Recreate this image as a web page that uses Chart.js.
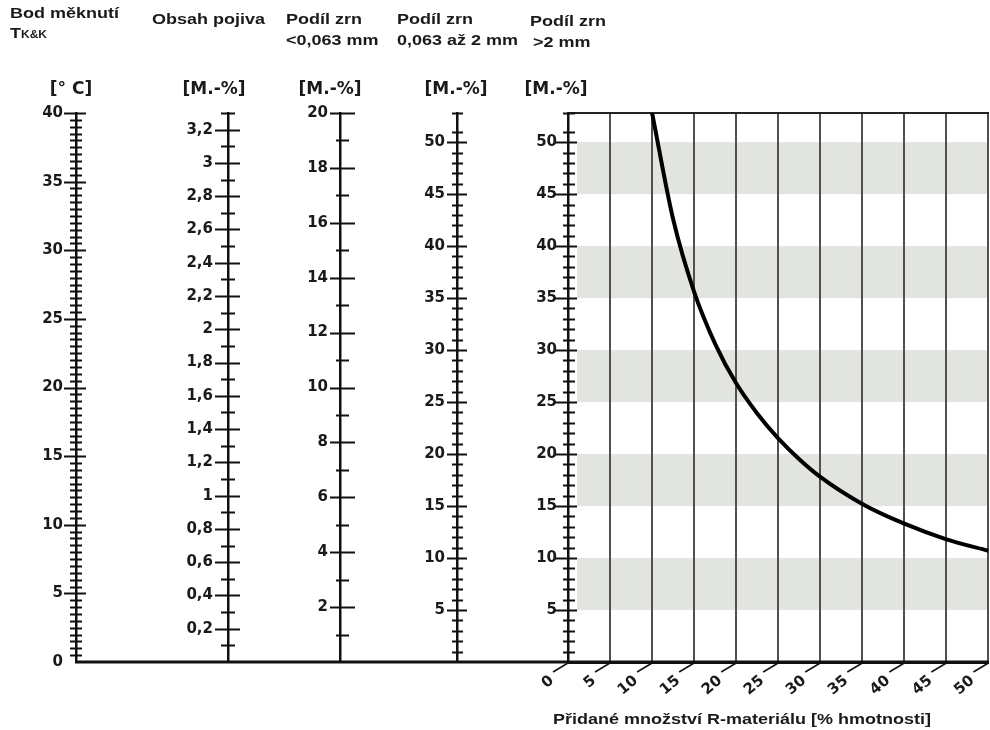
<!DOCTYPE html>
<html lang="cs">
<head>
<meta charset="utf-8">
<title>Nomogram R-materiálu</title>
<script src="https://cdn.jsdelivr.net/npm/chart.js@4.4.1/dist/chart.umd.min.js"></script>
<style>
  html, body { margin: 0; padding: 0; background: #fff; }
  #wrap { position: relative; width: 990px; height: 730px; overflow: hidden; }
  #nomo { position: absolute; left: 0; top: 0; }
  .t { position: absolute; white-space: nowrap; font: bold 15px "Liberation Sans", Arial, sans-serif; line-height: 15px; color: #1a1a1a; transform: scaleX(1.2); transform-origin: left top; }
  .sub { font-size: 10px; }
  .u { position: absolute; width: 100px; text-align: center; font: bold 17px "DejaVu Sans", sans-serif; line-height: 17px; color: #1a1a1a; }
</style>
</head>
<body>
<div id="wrap">
  <canvas id="nomo" width="1010" height="730"></canvas>

  <div class="t" style="left:10px;top:5px">Bod měknutí</div>
  <div class="t" style="left:10px;top:25px">T<span class="sub">K&amp;K</span></div>
  <div class="t" style="left:152px;top:11px">Obsah pojiva</div>
  <div class="t" style="left:286px;top:11px">Podíl zrn</div>
  <div class="t" style="left:286px;top:32px">&lt;0,063 mm</div>
  <div class="t" style="left:397px;top:11px">Podíl zrn</div>
  <div class="t" style="left:397px;top:32px">0,063 až 2 mm</div>
  <div class="t" style="left:530px;top:13px">Podíl zrn</div>
  <div class="t" style="left:533px;top:34px">&gt;2 mm</div>

  <div class="u" style="left:21px;top:80px">[° C]</div>
  <div class="u" style="left:164px;top:80px">[M.-%]</div>
  <div class="u" style="left:280px;top:80px">[M.-%]</div>
  <div class="u" style="left:406px;top:80px">[M.-%]</div>
  <div class="u" style="left:506px;top:80px">[M.-%]</div>

  <div class="t" style="left:553px;top:711px">Přidané množství R-materiálu [% hmotnosti]</div>
</div>

<script>
// labelled values on each scale
const tempLabels = [0, 5, 10, 15, 20, 25, 30, 35, 40];
const binderLabels = [0.2, 0.4, 0.6, 0.8, 1, 1.2, 1.4, 1.6, 1.8, 2, 2.2, 2.4, 2.6, 2.8, 3, 3.2];
const finesLabels = [2, 4, 6, 8, 10, 12, 14, 16, 18, 20];
const sandLabels = [5, 10, 15, 20, 25, 30, 35, 40, 45, 50];
const gravelLabels = [5, 10, 15, 20, 25, 30, 35, 40, 45, 50];
const addedLabels = [0, 5, 10, 15, 20, 25, 30, 35, 40, 45, 50];

// curve: added R-material [%] vs. >2 mm share [M.-%]
const curveX = [10, 12.5, 15, 17.5, 20, 22.5, 25, 27.5, 30, 35, 40, 45, 50];
const curveY = [52.8, 42.6, 35.6, 30.6, 26.8, 23.9, 21.5, 19.5, 17.8, 15.2, 13.3, 11.8, 10.7];

// shaded horizontal bands on the >2 mm scale
const greyBands = [[5, 10], [15, 20], [25, 30], [35, 40], [45, 50]];

const ink = '#1a1a1a';
const tickFont = { family: 'DejaVu Sans', size: 15, weight: 'bold' };

const fmt = v => String(Math.round(v * 10) / 10).replace('.', ',');
const labelFrom = list => v => list.some(l => Math.abs(l - v) < 1e-6) ? fmt(v) : '';

function sideAxis(min, max, step, labels, weight, width, gap) {
  return {
    type: 'linear',
    position: 'left',
    weight: weight,
    min: min,
    max: max,
    afterFit: s => { s.width = width; },
    grid: { display: false, drawTicks: false },
    border: { display: true, color: '#111', width: 2.5 },
    ticks: {
      stepSize: step,
      autoSkip: false,
      padding: gap,
      font: tickFont,
      color: ink,
      callback: labelFrom(labels)
    }
  };
}

// tick mark lengths [left, right] for labelled / other ticks
const tickMarks = {
  y1: { major: [12, 10], minor: [6, 6] },
  y2: { major: [13, 12], minor: [7, 7] },
  y3: { major: [10, 15], minor: [4, 9] },
  y4: { major: [10, 10], minor: [5, 6] },
  y5: { major: [13, 9], minor: [5, 7] }
};

const bandsPlugin = {
  id: 'bands',
  beforeDraw(chart) {
    const { ctx, chartArea } = chart;
    const y = chart.scales.y5;
    ctx.save();
    ctx.fillStyle = '#e2e4df';
    greyBands.forEach(([a, b]) => {
      const top = y.getPixelForValue(b);
      const bottom = y.getPixelForValue(a);
      ctx.fillRect(chartArea.left + 9, top, chartArea.right - chartArea.left - 9, bottom - top);
    });
    ctx.restore();
  }
};

const marksPlugin = {
  id: 'marks',
  afterDraw(chart) {
    const { ctx, chartArea } = chart;
    ctx.save();
    ctx.strokeStyle = '#111';
    ctx.lineWidth = 2;
    Object.keys(tickMarks).forEach(id => {
      const s = chart.scales[id];
      const x0 = s.right;
      s.ticks.forEach(t => {
        if (t.value <= 0) return;
        const [l, r] = t.label ? tickMarks[id].major : tickMarks[id].minor;
        const y = Math.round(s.getPixelForValue(t.value)) + 0.5;
        ctx.beginPath();
        ctx.moveTo(x0 - l, y);
        ctx.lineTo(x0 + r, y);
        ctx.stroke();
      });
    });

    // baseline under the side scales
    const base = chart.scales.y5.getPixelForValue(0);
    ctx.lineWidth = 3;
    ctx.beginPath();
    ctx.moveTo(chart.scales.y1.right - 1, base);
    ctx.lineTo(chartArea.right, base);
    ctx.stroke();

    // slanted leaders to the rotated x labels
    const x = chart.scales.x;
    ctx.lineWidth = 1.5;
    x.ticks.forEach(t => {
      const px = x.getPixelForValue(t.value);
      ctx.beginPath();
      ctx.moveTo(px, base + 1);
      ctx.lineTo(px - 15, base + 10);
      ctx.stroke();
    });
    ctx.restore();
  }
};

new Chart(document.getElementById('nomo'), {
  type: 'line',
  data: {
    datasets: [{
      data: curveX.map((x, i) => ({ x: x, y: curveY[i] })),
      xAxisID: 'x',
      yAxisID: 'y5',
      borderColor: '#000',
      borderWidth: 4,
      pointRadius: 0,
      cubicInterpolationMode: 'monotone',
      fill: false
    }]
  },
  options: {
    responsive: false,
    animation: false,
    events: [],
    layout: { padding: { left: 0, top: 113, right: 14, bottom: 0 } },
    plugins: { legend: { display: false }, tooltip: { enabled: false } },
    scales: {
      y1: sideAxis(0, 40, 0.5, tempLabels, 5, 76, 13),
      y2: sideAxis(0, 3.3, 0.1, binderLabels, 4, 152, 15),
      y3: sideAxis(0, 20, 1, finesLabels, 3, 112, 12),
      y4: sideAxis(0, 52.8, 1, sandLabels, 2, 117, 12),
      y5: sideAxis(0, 52.8, 1, gravelLabels, 1, 111, 11),
      x: {
        type: 'linear',
        position: 'bottom',
        min: 0,
        max: 50,
        afterFit: s => { s.height = 68; },
        grid: { color: '#505050', lineWidth: 2, drawTicks: false },
        border: { color: '#111', width: 3 },
        ticks: {
          stepSize: 5,
          autoSkip: false,
          minRotation: 40,
          maxRotation: 40,
          padding: 10,
          labelOffset: -16,
          font: tickFont,
          color: ink,
          callback: labelFrom(addedLabels)
        }
      },
      xTop: {
        type: 'linear',
        position: 'top',
        min: 0,
        max: 50,
        afterFit: s => { s.height = 0; },
        grid: { display: false, drawTicks: false },
        border: { color: '#222', width: 2 },
        ticks: { display: false }
      }
    }
  },
  plugins: [bandsPlugin, marksPlugin]
});
</script>
</body>
</html>
